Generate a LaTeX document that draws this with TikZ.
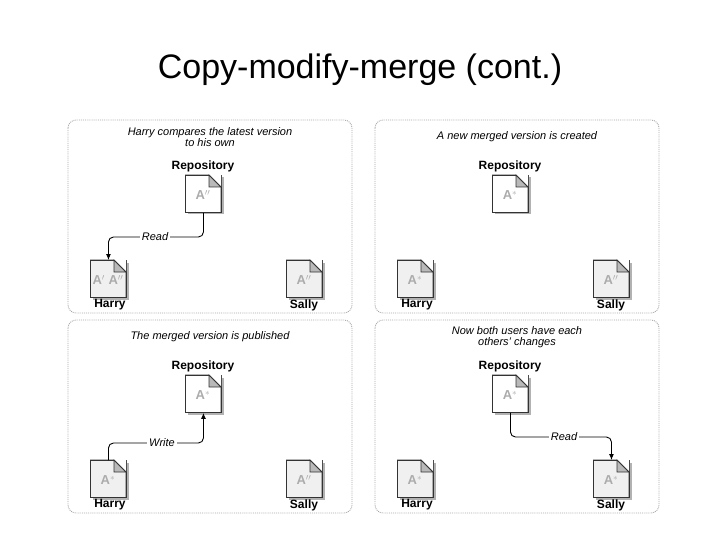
\documentclass[tikz,border=0pt]{standalone}
\usepackage{fontspec}
\setmainfont{Liberation Sans}
\usetikzlibrary{arrows.meta,calc}
\begin{document}
\begin{tikzpicture}[x=1pt,y=-1pt,
  panel/.style={draw=gray!70,densely dotted,rounded corners=8pt,line width=0.9pt},
  doc/.style={draw=black!80,line width=0.9pt,minimum width=36pt,minimum height=37pt,inner sep=0pt},
  captext/.style={font=\itshape\fontsize{11}{11}\selectfont,align=center},
  who/.style={font=\bfseries\fontsize{12}{12}\selectfont},
  conn/.style={line width=0.9pt,rounded corners=5pt},
  lbl/.style={fill=white,font=\itshape\fontsize{11}{11}\selectfont,inner sep=2pt},
  tip/.style={-{Latex[length=6pt,width=5pt]}}]
\useasboundingbox (0,0) rectangle (720,540);
\node[font=\fontsize{34}{38}\selectfont] (title) at (360,70) {Copy-modify-merge (cont.)};
\newcommand\mydoc[4]{%
  \fill[gray!60] ($(#1)+(2.5,2.5)$) rectangle ++(36,37);
  \node[doc,fill=#3,anchor=north west] (#2) at (#1) {};
  \fill[white] ($(#1)+(24,0)$) -- ++(12,0) -- ++(0,12) -- cycle;
  \fill[gray!55,draw=black!80,line width=0.6pt] ($(#1)+(24,0)$) -- ++(12,12) -- ++(-12,0) -- cycle;
  \draw[black!80,line width=0.9pt] ($(#1)+(0,0)$) -- ++(24,0) -- ++(12,12) -- ++(0,25);
  \node[font=\bfseries\fontsize{13}{13}\selectfont,text=gray!65] at ($(#1)+(18,20)$) {#4};}
\newcommand\panel[7]{%
 \begin{scope}[shift={(#1,#2)}]
  \draw[panel] (0,0) rectangle (284,193);
  \node[captext] (cap#3) at (142,17) {#4};
  \node[who] (r#3) at (135,46) {Repository};
  \coordinate (rp#3) at (117,55);
  \mydoc{rp#3}{repo#3}{white}{#5}
  \coordinate (hp#3) at (22,140);
  \mydoc{hp#3}{harry#3}{gray!12}{#6}
  \coordinate (sp#3) at (218,140);
  \mydoc{sp#3}{sally#3}{gray!12}{#7}
  \node[who] (h#3) at (42,185) {Harry};
  \node[who] (s#3) at (236,185) {Sally};
 \end{scope}}
\panel{68}{120}{a}{Harry compares the latest version\\to his own}{A$''$}{A$'$ A$''$}{A$''$}
\panel{375}{120}{b}{A new merged version is created}{A$^{*}$}{A$^{*}$}{A$''$}
\panel{68}{320}{c}{The merged version is published}{A$^{*}$}{A$^{*}$}{A$''$}
\panel{375}{320}{d}{Now both users have each\\others' changes}{A$^{*}$}{A$^{*}$}{A$^{*}$}
% connectors
\coordinate (la) at (155,237);
\coordinate (lc) at (162,443);
\coordinate (ld) at (564,437);
\draw[conn,tip] (repoa.south) |- (la) -| (harrya.north);
\draw[conn,tip] (harryc.north) |- (lc) -| (repoc.south);
\draw[conn,tip] (repod.south) |- (ld) -| (sallyd.north);
\node[lbl] (ta) at (la) {Read};
\node[lbl] (tc) at (lc) {Write};
\node[lbl] (td) at (ld) {Read};
\end{tikzpicture}
\end{document}
